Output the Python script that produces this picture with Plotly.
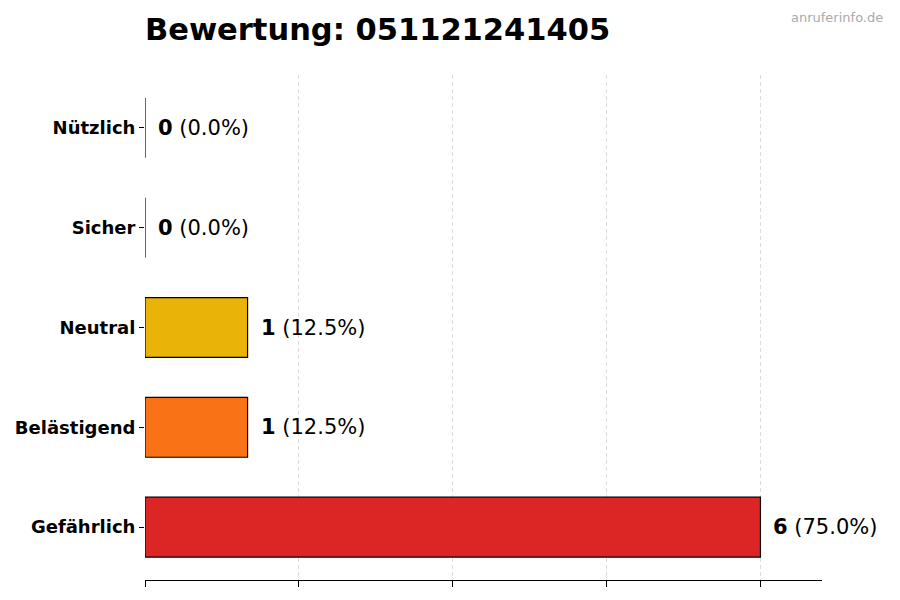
import plotly.graph_objects as go

categories = ["Gefährlich", "Belästigend", "Neutral", "Sicher", "Nützlich"]
counts = [6, 1, 1, 0, 0]
colors = ["#dc2626", "#f97316", "#eab308", "#22c55e", "#3b82f6"]
title_text = "Bewertung: 051121241405"
watermark = "anruferinfo.de"

total = sum(counts)
FONT = "DejaVu Sans"

fig = go.Figure()
fig.add_trace(go.Bar(
    y=categories, x=counts, orientation="h", width=0.6,
    marker=dict(color=colors, line=dict(color="black", width=1.2)),
    hoverinfo="skip",
))

for c, v in zip(categories, counts):
    pct = 100.0 * v / total
    fig.add_annotation(
        x=v, y=c, xref="x", yref="y", xanchor="left", yanchor="middle",
        xshift=11, showarrow=False,
        text=f"<b>{v}</b> ({pct:.1f}%)",
        font=dict(family=FONT, size=21, color="black"),
    )

fig.add_annotation(
    xref="paper", yref="paper", x=1, y=1, xanchor="right", yanchor="bottom",
    xshift=63, yshift=48, showarrow=False, text=watermark,
    font=dict(family=FONT, size=13, color="#aaaaaa"),
)

fig.update_layout(
    width=900, height=600,
    margin=dict(l=137, r=86, t=67, b=28, autoexpand=False),
    paper_bgcolor="white", plot_bgcolor="white",
    showlegend=False,
    title=dict(text=f"<b>{title_text}</b>", x=0, xref="paper", xanchor="left",
               y=1, yref="container", yanchor="top", pad=dict(t=11),
               font=dict(family=FONT, size=30.5, color="black")),
    xaxis=dict(range=[0, 6.6], tickvals=[0, 1.5, 3, 4.5, 6], showticklabels=False,
               ticks="outside", ticklen=6, tickcolor="black",
               showline=True, linecolor="black", linewidth=1.2,
               showgrid=True, gridcolor="#dcdcdc", griddash="4px,3px", gridwidth=1,
               zeroline=False, fixedrange=True, automargin=False),
    yaxis=dict(range=[-0.53, 4.53], categoryorder="array", categoryarray=categories,
               ticks="outside", ticklen=5, tickcolor="black",
               showline=False, showgrid=False, zeroline=False,
               tickfont=dict(family=FONT, size=18, color="black"),
               ticklabelstandoff=0, automargin=False),
    bargap=0.4,
)
fig.update_yaxes(ticktext=[f"<b>{c}</b>" for c in categories], tickvals=categories)

fig.write_html("out.html")
